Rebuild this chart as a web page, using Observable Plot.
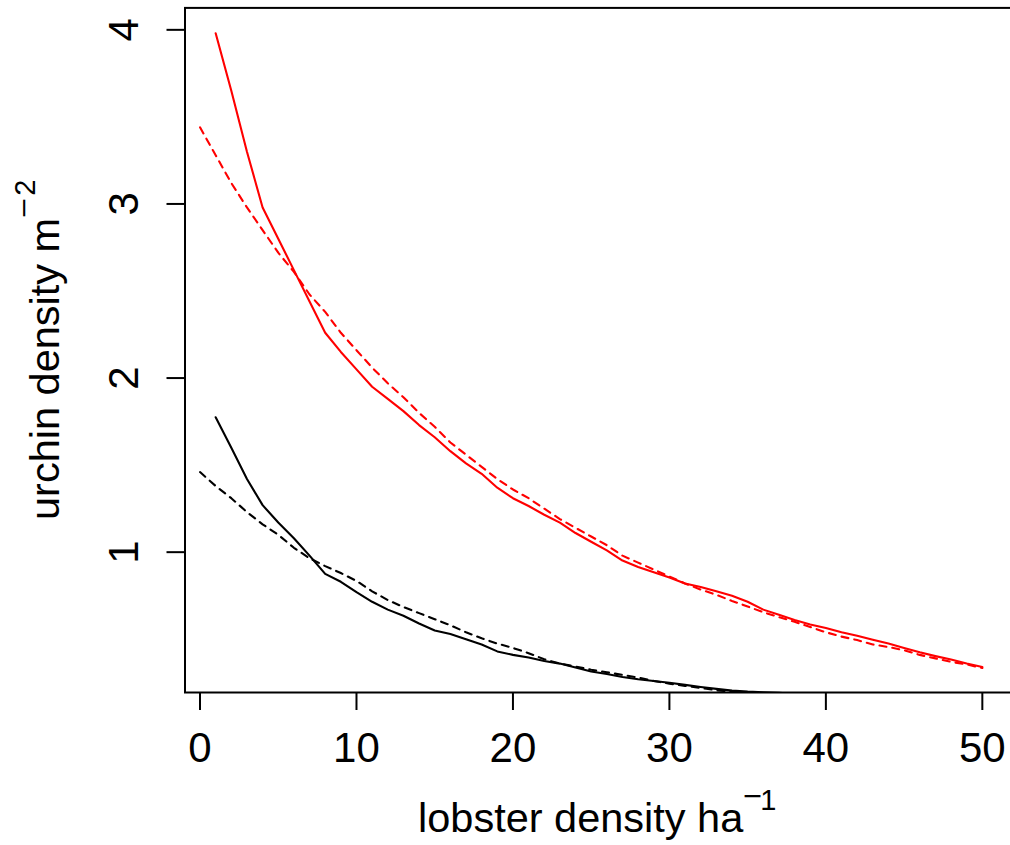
<!DOCTYPE html>
<html><head><meta charset="utf-8">
<script src="https://cdn.jsdelivr.net/npm/d3@7"></script>
<script src="https://cdn.jsdelivr.net/npm/@observablehq/plot@0.6"></script>
<style>body{margin:0;background:#fff;overflow:hidden}</style>
</head><body><div id="chart"></div>
<script>
// lobster density (ha^-1)
const lobsterFrom0 = [0,1,2,3,4,5,6,7,8,9,10,11,12,13,14,15,16,17,18,19,20,21,22,23,24,25,26,27,28,29,30,31,32,33,34,35,36,37,38,39,40,41,42,43,44,45,46,47,48,49,50];
const lobsterFrom1 = lobsterFrom0.slice(1);

// urchin density (m^-2), red solid (x = 1..50)
const redSolid = [3.98,3.65,3.30,2.98,2.80,2.62,2.44,2.26,2.15,2.05,1.95,1.88,1.81,1.73,1.66,1.58,1.51,1.45,1.37,1.31,1.265,1.215,1.17,1.11,1.06,1.01,0.952,0.915,0.884,0.855,0.82,0.80,0.775,0.75,0.715,0.67,0.64,0.61,0.585,0.565,0.54,0.52,0.497,0.475,0.45,0.425,0.403,0.383,0.36,0.34];
// red dashed (x = 0..50)
const redDashed = [3.44,3.28,3.12,2.98,2.85,2.72,2.61,2.48,2.38,2.26,2.16,2.06,1.97,1.89,1.80,1.72,1.63,1.56,1.49,1.42,1.36,1.31,1.25,1.19,1.14,1.09,1.04,0.98,0.94,0.90,0.86,0.82,0.785,0.755,0.72,0.688,0.655,0.627,0.60,0.57,0.54,0.515,0.495,0.47,0.455,0.437,0.41,0.39,0.37,0.355,0.335];
// black solid (x = 1..38)
const blackSolid = [1.775,1.60,1.42,1.27,1.17,1.08,0.98,0.875,0.83,0.77,0.715,0.67,0.635,0.59,0.55,0.53,0.50,0.47,0.43,0.41,0.395,0.375,0.36,0.337,0.315,0.30,0.283,0.27,0.26,0.25,0.238,0.226,0.215,0.205,0.199,0.195,0.192,0.187];
// black dashed (x = 0..36)
const blackDashed = [1.46,1.38,1.31,1.23,1.16,1.10,1.025,0.965,0.92,0.88,0.835,0.775,0.725,0.685,0.65,0.615,0.58,0.54,0.505,0.475,0.45,0.42,0.385,0.36,0.343,0.325,0.31,0.295,0.28,0.26,0.245,0.232,0.22,0.207,0.198,0.192,0.186];

const xTicks = [0,10,20,30,40,50];
const yTicks = [1,2,3,4];
const xTitle = "lobster density ha", xSup = ["−","1"];
const yTitle = "urchin density m", ySup = ["−","2"];

const series = (xs, ys) => ys.map((y, i) => ({x: xs[i], y}));

const FONT = "'Liberation Sans', Arial, Helvetica, sans-serif";
const plot = Plot.plot({
  width: 1010, height: 845,
  marginLeft: 184.5, marginRight: -2.5, marginTop: 7.4, marginBottom: 153,
  style: {fontFamily: FONT, background: "white", color: "black"},
  x: {domain: [-0.96, 51.96]},
  y: {domain: [0.194, 4.126]},
  marks: [
    Plot.line(series(lobsterFrom0, redDashed), {x: "x", y: "y", stroke: "#ff0000", strokeWidth: 2.1, strokeDasharray: "7,6", clip: true}),
    Plot.line(series(lobsterFrom1, redSolid), {x: "x", y: "y", stroke: "#ff0000", strokeWidth: 2.1, clip: true}),
    Plot.line(series(lobsterFrom0, blackDashed), {x: "x", y: "y", stroke: "black", strokeWidth: 2.1, strokeDasharray: "7,6", clip: true}),
    Plot.line(series(lobsterFrom1, blackSolid), {x: "x", y: "y", stroke: "black", strokeWidth: 2.1, clip: true}),
    Plot.frame({stroke: "black", strokeWidth: 2}),
    Plot.axisX({ticks: xTicks, tickSize: 18, tickPadding: 22, fontSize: 42, strokeWidth: 2, label: null, tickFormat: d => String(d)}),
    Plot.axisY({ticks: yTicks, tickSize: 18, tickPadding: 29, tickRotate: -90, fontSize: 42, strokeWidth: 2, label: null, tickFormat: d => String(d)})
  ]
});
document.getElementById("chart").appendChild(plot);

const svg = d3.select(plot);
const g = svg.append("g").attr("font-family", FONT).attr("fill", "black");
// x title (one text element with superscript tspans)
const xt = g.append("text").attr("text-anchor", "start").attr("x", 418).attr("y", 831.5).attr("font-size", 41.5);
xt.append("tspan").text(xTitle);
xt.append("tspan").attr("font-size", 29).attr("dx", 0).attr("dy", -25.5)
  .attr("textLength", 19).attr("lengthAdjust", "spacingAndGlyphs").text(xSup[0]);
xt.append("tspan").attr("font-size", 29).attr("dx", -2).attr("dy", 4).text(xSup[1]);
// y title
const yt = g.append("text").attr("text-anchor", "start").attr("transform", "translate(59,520) rotate(-90)").attr("font-size", 41.5);
yt.append("tspan").text(yTitle);
yt.append("tspan").attr("font-size", 29).attr("dx", 0).attr("dy", -25)
  .attr("textLength", 20).attr("lengthAdjust", "spacingAndGlyphs").text(ySup[0]);
yt.append("tspan").attr("font-size", 29).attr("dx", 2).attr("dy", 1).text(ySup[1]);
</script>
</body></html>
